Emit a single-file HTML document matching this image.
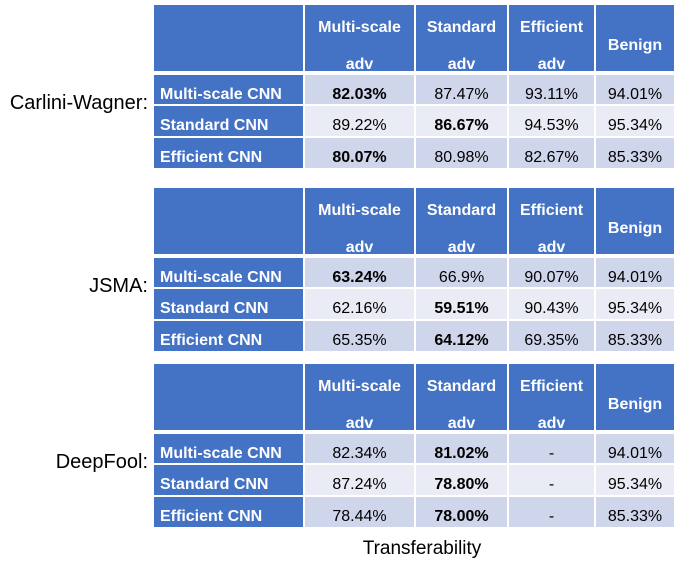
<!DOCTYPE html>
<html><head><meta charset="utf-8">
<style>
body{margin:0;width:674px;height:566px;background:#fff;position:relative;overflow:hidden;font-family:"Liberation Sans",sans-serif;}
.cell{position:absolute;box-sizing:border-box;border-right:2px solid #fff;border-bottom:2px solid #fff;display:flex;align-items:center;justify-content:center;font-size:16px;color:#000;padding-top:10px;}
.hd{background:#4472C4;color:#fff;font-weight:bold;flex-direction:column;line-height:37px;padding-top:15px;border-bottom:none;}
.rl{background:#4472C4;color:#fff;font-weight:bold;justify-content:flex-start;padding-left:6px;}
.a{background:#CFD5EA}.b{background:#E9EBF5}
.bold{font-weight:bold}
.lab{position:absolute;font-size:20px;color:#000;text-align:right;width:148px;left:0;}
</style></head><body>
<div id="root"></div>
<div style="position:absolute;left:322px;width:200px;top:538px;text-align:center;font-size:19px;">Transferability</div>
<script>
const attacks=["Carlini-Wagner:","JSMA:","DeepFool:"];
const cols=["Multi-scale|adv","Standard|adv","Efficient|adv","Benign"];
const rowsL=["Multi-scale CNN","Standard CNN","Efficient CNN"];
const vals=[
 [["82.03%","87.47%","93.11%","94.01%"],["89.22%","86.67%","94.53%","95.34%"],["80.07%","80.98%","82.67%","85.33%"]],
 [["63.24%","66.9%","90.07%","94.01%"],["62.16%","59.51%","90.43%","95.34%"],["65.35%","64.12%","69.35%","85.33%"]],
 [["82.34%","81.02%","-","94.01%"],["87.24%","78.80%","-","95.34%"],["78.44%","78.00%","-","85.33%"]]];
const bolds=[[[0,0],[1,1],[2,0]],[[0,0],[1,1],[2,1]],[[0,1],[1,1],[2,1]]];
const tops=[5,188,364];
const xs=[154,305,416,509,596,676];
const rowY=[70,101,133,165];
const root=document.getElementById('root');
function mk(cls,x,y,w,h,html){const d=document.createElement('div');d.className='cell '+cls;d.style.left=x+'px';d.style.top=y+'px';d.style.width=w+'px';d.style.height=h+'px';d.innerHTML=html;root.appendChild(d);return d;}
attacks.forEach((at,t)=>{
 const T=tops[t];
 const l=document.createElement('div');l.className='lab';l.style.top=(T+87)+'px';l.textContent=at;
 
 
 root.appendChild(l);
 let c=mk('hd',xs[0],T,xs[1]-xs[0],66,'');
 
 
 cols.forEach((h,i)=>{const e=mk('hd',xs[i+1],T,xs[i+2]-xs[i+1],66,h.split('|').map(s=>'<span>'+s+'</span>').join(''));
  
  });
 rowsL.forEach((r,ri)=>{
  const y=T+rowY[ri], h=rowY[ri+1]-rowY[ri];
  const e=mk('rl',xs[0],y,xs[1]-xs[0],h,r);
  
  
  vals[t][ri].forEach((v,ci)=>{
   const b=bolds[t].some(p=>p[0]==ri&&p[1]==ci);
   const d=mk((ri==1?'b':'a')+(b?' bold':''),xs[ci+1],y,xs[ci+2]-xs[ci+1],h,v);
   
   
  });
 });
});
</script>
</body></html>
